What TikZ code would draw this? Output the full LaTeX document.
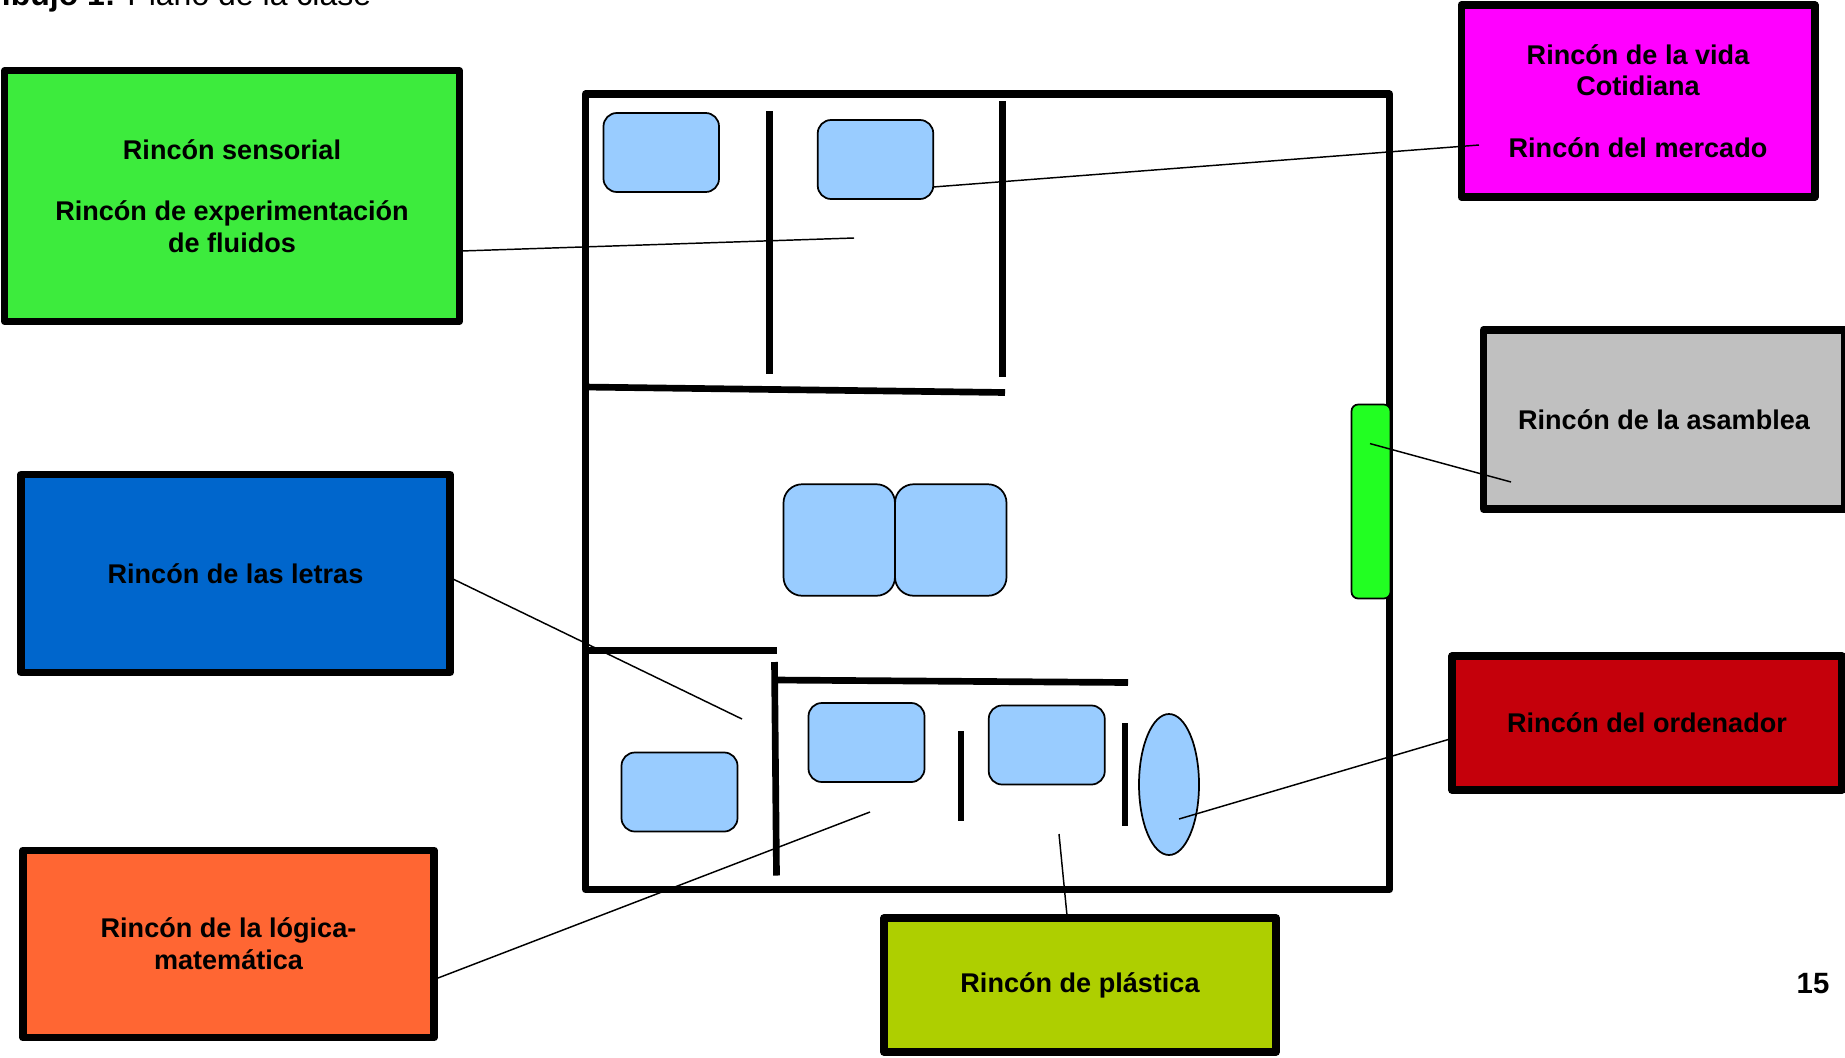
\documentclass[tikz,border=0pt]{standalone}
\usepackage{fontspec}
\setmainfont{Liberation Sans}
\usetikzlibrary{shapes.geometric}
\definecolor{cgreen}{HTML}{3DEB3D}
\definecolor{cmag}{HTML}{FF00FF}
\definecolor{cgrey}{HTML}{C0C0C0}
\definecolor{cblue}{HTML}{0066CC}
\definecolor{cred}{HTML}{C5000B}
\definecolor{corange}{HTML}{FF6633}
\definecolor{colive}{HTML}{AECF00}
\definecolor{cfurn}{HTML}{99CCFF}
\definecolor{cbar}{HTML}{22FF22}
\tikzset{
  sz/.style 2 args={minimum width=#1*0.75pt,minimum height=#2*0.75pt},
  zone/.style={draw=black,line width=5.6pt,line join=round,inner sep=0pt,align=center,
     font=\fontsize{20.3pt}{23.8pt}\selectfont\bfseries},
  wall/.style={line width=5pt,draw=black},
  room/.style={draw=black,line width=5.4pt,line join=round,inner sep=0pt},
  furn/.style={draw=black,line width=1.3pt,fill=cfurn,rounded corners=10pt,inner sep=0pt},
  leader/.style={draw=black,line width=1.1pt},
}
\begin{document}
\begin{tikzpicture}[x=0.75pt,y=-0.75pt]
\clip (0,0) rectangle (1845,1057);
\useasboundingbox (0,0) rectangle (1845,1057);
\node[anchor=base west,inner sep=0pt,font=\fontsize{24pt}{28pt}\selectfont] (title) at (-21.5,5.5) {\textbf{Dibujo 1:} Plano de la clase};
% room
\node[room,sz={804}{795.5}] (roomb) at (987.5,491.75) {};
% furniture
\node[furn,sz={115.5}{79}] (t1) at (661.25,152.5) {};
\node[furn,sz={115.5}{79}] (t2) at (875.5,159.5) {};
\node[furn,sz={111.5}{111.5},rounded corners=14pt] (c1) at (839.25,540) {};
\node[furn,sz={111.5}{111.5},rounded corners=14pt] (c2) at (950.75,540) {};
\node[furn,sz={116}{79}] (t3) at (679.5,792) {};
\node[furn,sz={116}{79}] (t4) at (866.5,742.5) {};
\node[furn,sz={116}{79}] (t5) at (1046.75,745) {};
\node[draw=black,line width=1.3pt,fill=cfurn,ellipse,inner sep=0pt,sz={60}{141}] (oval) at (1169,784.5) {};
\node[draw=black,line width=1.3pt,fill=cbar,rounded corners=5pt,inner sep=0pt,sz={39}{194}] (bar) at (1371,501.5) {};
% walls
\coordinate (w1a) at (769.5,111); \coordinate (w1b) at (769.5,374);
\coordinate (w2a) at (1002.5,101); \coordinate (w2b) at (1002.5,376.5);
\coordinate (w3a) at (584,387); \coordinate (w3b) at (1005,392.5);
\coordinate (w4a) at (584,650.5); \coordinate (w4b) at (776.5,650.5);
\coordinate (w5a) at (774.5,662); \coordinate (w5b) at (776.5,875.5);
\coordinate (w6a) at (775,680); \coordinate (w6b) at (1128,682.5);
\coordinate (w7a) at (961,731); \coordinate (w7b) at (961,821);
\coordinate (w8a) at (1125,723); \coordinate (w8b) at (1125,826);
\foreach \a/\b in {w1a/w1b,w2a/w2b,w3a/w3b,w4a/w4b,w5a/w5b,w6a/w6b,w7a/w7b,w8a/w8b}
  \draw[wall] (\a) -- (\b);
% labelled zones
\node[zone,fill=cgreen,sz={454.5}{250.5}] (sens) at (232,196)
  {Rincón sensorial\\[22.5pt]Rincón de experimentación\\de fluidos};
\node[zone,fill=cmag,sz={353.5}{192}] (vida) at (1638,101)
  {Rincón de la vida\\Cotidiana\\[22.5pt]Rincón del mercado};
\node[zone,fill=cgrey,sz={361}{179}] (asam) at (1664,419.5) {Rincón de la asamblea};
\node[zone,fill=cblue,sz={429}{198}] (letras) at (235.5,573.5) {Rincón de las letras};
\node[zone,fill=cred,sz={390}{134}] (orde) at (1647,723) {Rincón del ordenador};
\node[zone,fill=corange,sz={411}{187.5}] (logi) at (228.5,944) {Rincón de la lógica-\\matemática};
\node[zone,fill=colive,sz={392}{134}] (plas) at (1080,985) {\raisebox{-1.5pt}{Rincón de plástica}};
\node[anchor=center,inner sep=0pt,font=\fontsize{22pt}{26pt}\selectfont\bfseries] (pg) at (1813,984) {15};
% leaders
\coordinate (e1a) at (461,251); \coordinate (e1b) at (854,238);
\coordinate (e2a) at (1479,145); \coordinate (e2b) at (933,187);
\coordinate (e3a) at (1370,443.6); \coordinate (e3b) at (1511,482);
\coordinate (e4a) at (453,579); \coordinate (e4b) at (742,719);
\coordinate (e5a) at (438,978); \coordinate (e5b) at (870,812);
\coordinate (e6a) at (1067,915.5); \coordinate (e6b) at (1059,834);
\coordinate (e7a) at (1450,739); \coordinate (e7b) at (1179,819);
\foreach \a/\b in {e1a/e1b,e2a/e2b,e3a/e3b,e4a/e4b,e5a/e5b,e6a/e6b,e7a/e7b}
  \draw[leader] (\a) -- (\b);
\end{tikzpicture}
\end{document}
